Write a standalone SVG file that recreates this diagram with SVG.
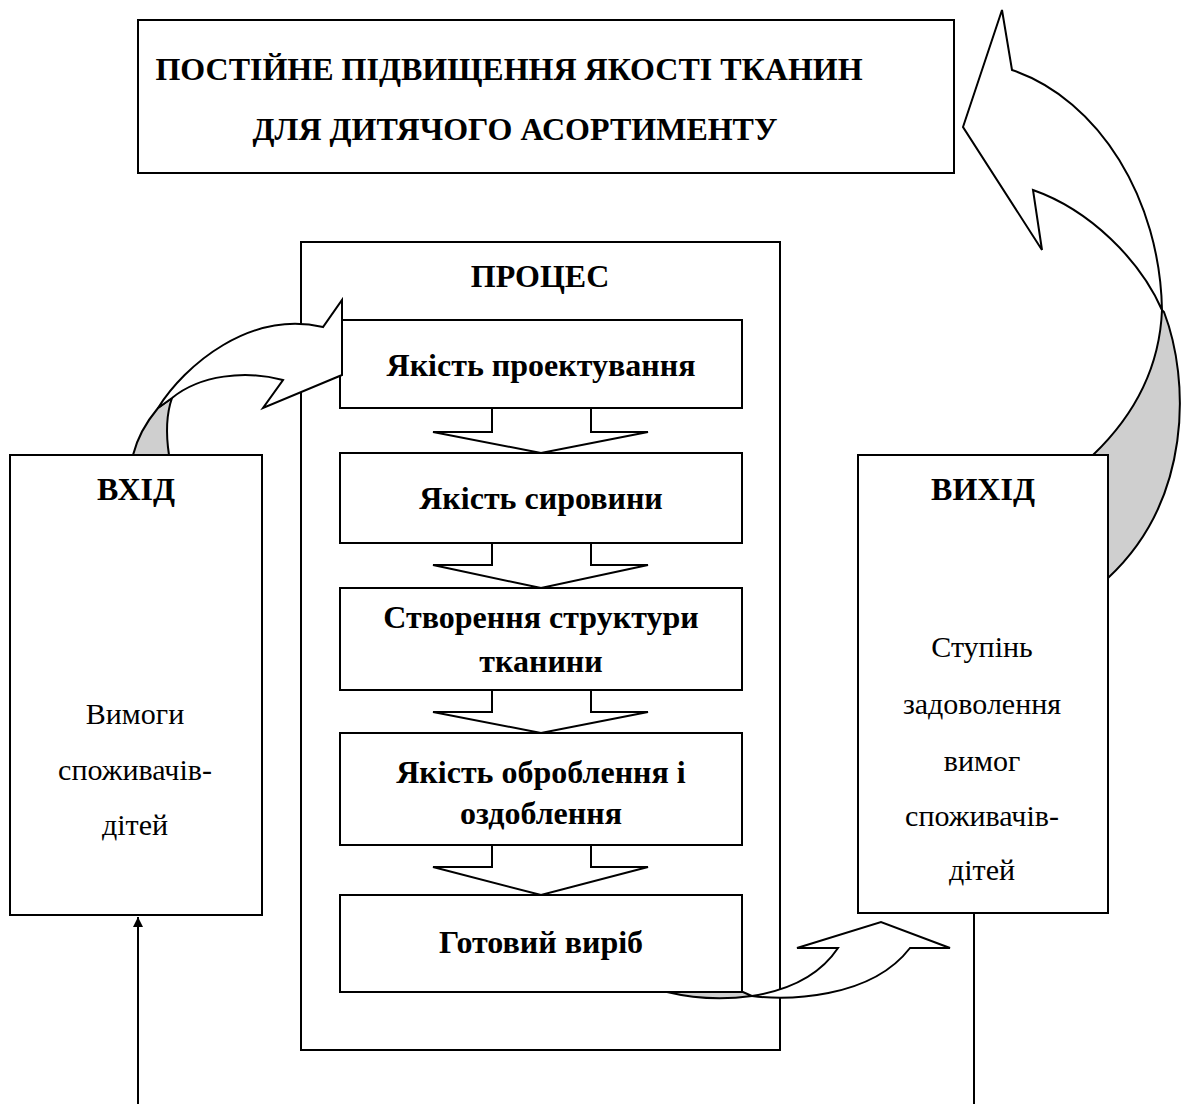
<svg xmlns="http://www.w3.org/2000/svg" width="1187" height="1104" viewBox="0 0 1187 1104">
<style>
.box{fill:#fff;stroke:#000;stroke-width:2}
.arr{fill:#fff;stroke:#000;stroke-width:2;stroke-linejoin:miter}
.gray{fill:#cfcfcf;stroke:#000;stroke-width:2}
.ln{fill:none;stroke:#000;stroke-width:2}
text{font-family:'Liberation Serif','DejaVu Serif',serif;font-size:30px;text-anchor:middle}
.b{font-weight:bold;font-size:32px}
</style>
<defs>
<marker id="ah" markerWidth="12" markerHeight="12" refX="10" refY="5" orient="auto" markerUnits="userSpaceOnUse">
<path d="M0,0 L10,5 L0,10 Z" fill="#000"/>
</marker>
</defs>
<rect width="1187" height="1104" fill="#fff"/>

<g id="goal">
<rect class="box" x="138" y="20" width="816" height="153"/>
<text class="b" x="509" y="80">ПОСТІЙНЕ ПІДВИЩЕННЯ ЯКОСТІ ТКАНИН</text>
<text class="b" x="515" y="140">ДЛЯ ДИТЯЧОГО АСОРТИМЕНТУ</text>
</g>

<g id="connectors">
<path class="gray" d="M1093,455 C1140,410 1160,360 1162,310 L1164,312 C1190,380 1192,500 1108,578 L1108,455 Z"/>
<path class="gray" d="M133,455 C138,435 148,420 158,408 L172,398 C166,415 166,435 169,455 Z"/>
<path class="arr" d="M1162,310 C1160,200 1100,100 1012,70 L1002,10 L963,127 L1042,250 L1033,190 C1090,210 1140,260 1162,310 Z"/>
<line class="ln" x1="138" y1="1104" x2="138" y2="917" marker-end="url(#ah)"/>
<line class="ln" x1="974" y1="913" x2="974" y2="1104"/>
</g>

<g id="process">
<rect class="box" x="301" y="242" width="479" height="808"/>
<text class="b" x="540" y="287">ПРОЦЕС</text>
</g>

<g id="input">
<rect class="box" x="10" y="455" width="252" height="460"/>
<text class="b" x="136" y="500">ВХІД</text>
<text x="135" y="724">Вимоги</text>
<text x="135" y="780">споживачів-</text>
<text x="135" y="835">дітей</text>
</g>

<g id="output">
<rect class="box" x="858" y="455" width="250" height="458"/>
<text class="b" x="983" y="500">ВИХІД</text>
<text x="982" y="657">Ступінь</text>
<text x="982" y="714">задоволення</text>
<text x="982" y="771">вимог</text>
<text x="982" y="826">споживачів-</text>
<text x="982" y="880">дітей</text>
</g>

<g id="step-arrows">
<path class="arr" d="M492,408 L492,432 L433,432 L541,453 L648,432 L591,432 L591,408"/>
<path class="arr" d="M492,543 L492,565 L433,565 L541,588 L648,565 L591,565 L591,543"/>
<path class="arr" d="M492,690 L492,712 L433,712 L541,733 L648,712 L591,712 L591,690"/>
<path class="arr" d="M492,845 L492,867 L433,867 L541,895 L648,867 L591,867 L591,845"/>
</g>

<g id="s1">
<rect class="box" x="340" y="320" width="402" height="88"/>
<text class="b" x="541" y="376">Якість проектування</text>
</g>
<g id="s2">
<rect class="box" x="340" y="453" width="402" height="90"/>
<text class="b" x="541" y="509">Якість сировини</text>
</g>
<g id="s3">
<rect class="box" x="340" y="588" width="402" height="102"/>
<text class="b" x="541" y="628">Створення структури</text>
<text class="b" x="541" y="672">тканини</text>
</g>
<g id="s4">
<rect class="box" x="340" y="733" width="402" height="112"/>
<text class="b" x="541" y="783">Якість оброблення і</text>
<text class="b" x="541" y="824">оздоблення</text>
</g>
<g id="s5">
<rect class="box" x="340" y="895" width="402" height="97"/>
<text class="b" x="541" y="953">Готовий виріб</text>
</g>

<g id="curved-arrows">
<path class="arr" d="M158,408 C185,365 250,310 323,327 L342,300 L342,375 L263,408 L283,380 C245,370 200,375 172,398 Z"/>
<path class="gray" d="M667,992 C700,1000 730,999 752,996 L743,992 Z"/>
<path class="arr" d="M752,996 C785,1000 870,1000 910,948 L950,948 L881,922 L797,948 L838,948 C820,975 790,990 752,996 Z"/>
</g>
</svg>
